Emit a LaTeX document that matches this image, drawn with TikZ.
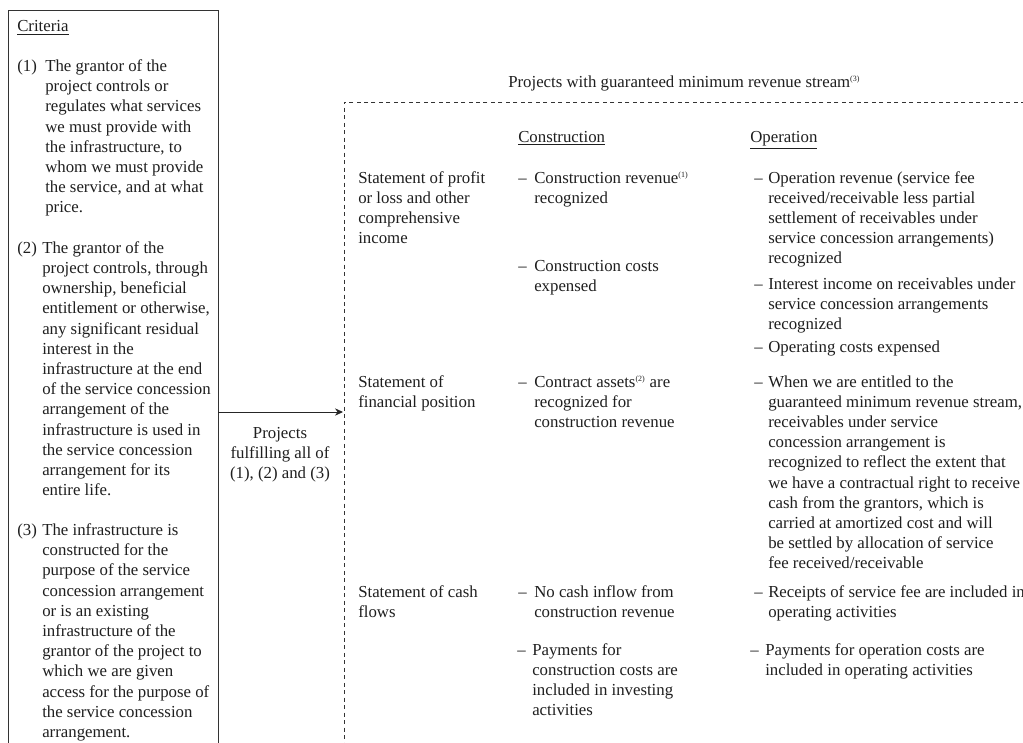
\documentclass[tikz,border=0pt]{standalone}
\usepackage{fontspec}
\setmainfont{Liberation Serif}
\usetikzlibrary{arrows.meta}
\newcommand{\fnmark}[1]{\textsuperscript{\fontsize{6}{6}\selectfont(#1)}}
\newcommand{\leftlines}[1]{\begin{tabular}[t]{@{}l@{}}#1\end{tabular}}
\newcommand{\midlines}[1]{\begin{tabular}[t]{@{}c@{}}#1\end{tabular}}
\begin{document}
\begin{tikzpicture}[x=0.75pt,y=-0.75pt,>={Stealth[length=6pt,width=5.5pt]},
    every node/.style={font=\fontsize{12.6}{15.15}\selectfont,inner sep=0pt,text=black!88},
    txt/.style={anchor=base west},
    boxline/.style={draw=black!80,line width=0.7pt},
    frameline/.style={draw=black!80,line width=0.6pt,dash pattern=on 3pt off 2.6pt}]
    \clip (0,0) rectangle (1023,742);
    \fill[white] (0,0) rectangle (1023,742);
    \draw[boxline] (8,760) |- (218,10) -- (218,760);
    \draw[frameline] (1040,102) -- (344,102) -- (344,760);
    \node[txt] (crit) at (17,32) {\underline{Criteria}};
    \node[txt] (c1num) at (17,71.5) {(1)};
    \node[txt] (c1) at (45,71.5) {\leftlines{The grantor of the\\project controls or\\regulates what services\\we must provide with\\the infrastructure, to\\whom we must provide\\the service, and at what\\price.}};
    \node[txt] (c2num) at (17,253.3) {(2)};
    \node[txt] (c2) at (42,253.3) {\leftlines{The grantor of the\\project controls, through\\ownership, beneficial\\entitlement or otherwise,\\any significant residual\\interest in the\\infrastructure at the end\\of the service concession\\arrangement of the\\infrastructure is used in\\the service concession\\arrangement for its\\entire life.}};
    \node[txt] (c3num) at (17,535.5) {(3)};
    \node[txt] (c3) at (42,535.5) {\leftlines{The infrastructure is\\constructed for the\\purpose of the service\\concession arrangement\\or is an existing\\infrastructure of the\\grantor of the project to\\which we are given\\access for the purpose of\\the service concession\\arrangement.}};
    \node[anchor=base] (proj) at (280,438) {\midlines{Projects\\fulfilling all of\\(1), (2) and (3)}};
    \coordinate (critE) at (218,412);
    \coordinate (frameW) at (343,412);
    \draw[->,black!85,line width=0.7pt] (critE) -- (frameW);
    \node[txt] (title) at (508,87) {Projects with guaranteed minimum revenue stream\fnmark{3}};
    \node[txt] (hcon) at (518,142.5) {\underline{Construction}};
    \node[txt] (hop) at (750,142.5) {\underline{Operation}};
    \node[txt] (rpl) at (358,183) {\leftlines{Statement of profit\\or loss and other\\comprehensive\\income}};
    \node[txt] (rfp) at (358,387) {\leftlines{Statement of\\financial position}};
    \node[txt] (rcf) at (358,597) {\leftlines{Statement of cash\\flows}};
    \foreach \n/\x/\y in {1/518/183,2/518/271.5,3/518/387,4/518/597.5,5/517/655,6/754/183,7/754/289.5,8/754/352,9/754/387,10/754/597,11/750/655}
        \node[txt] (dash\n) at (\x,\y) {--};
    \node[txt] (con1) at (534,183) {\leftlines{Construction revenue\fnmark{1}\\recognized}};
    \node[txt] (con2) at (534,271.5) {\leftlines{Construction costs\\expensed}};
    \node[txt] (con3) at (534,387) {\leftlines{Contract assets\fnmark{2} are\\recognized for\\construction revenue}};
    \node[txt] (con4) at (534,597.5) {\leftlines{No cash inflow from\\construction revenue}};
    \node[txt] (con5) at (532,655) {\leftlines{Payments for\\construction costs are\\included in investing\\activities}};
    \node[txt] (op1) at (768,183) {\leftlines{Operation revenue (service fee\\received/receivable less partial\\settlement of receivables under\\service concession arrangements)\\recognized}};
    \node[txt] (op2) at (768,289.5) {\leftlines{Interest income on receivables under\\service concession arrangements\\recognized}};
    \node[txt] (op3) at (768,352) {Operating costs expensed};
    \node[txt] (op4) at (768,387) {\leftlines{When we are entitled to the\\guaranteed minimum revenue stream,\\receivables under service\\concession arrangement is\\recognized to reflect the extent that\\we have a contractual right to receive\\cash from the grantors, which is\\carried at amortized cost and will\\be settled by allocation of service\\fee received/receivable}};
    \node[txt] (op5) at (768,597) {\leftlines{Receipts of service fee are included in\\operating activities}};
    \node[txt] (op6) at (765,655) {\leftlines{Payments for operation costs are\\included in operating activities}};
\end{tikzpicture}
\end{document}
